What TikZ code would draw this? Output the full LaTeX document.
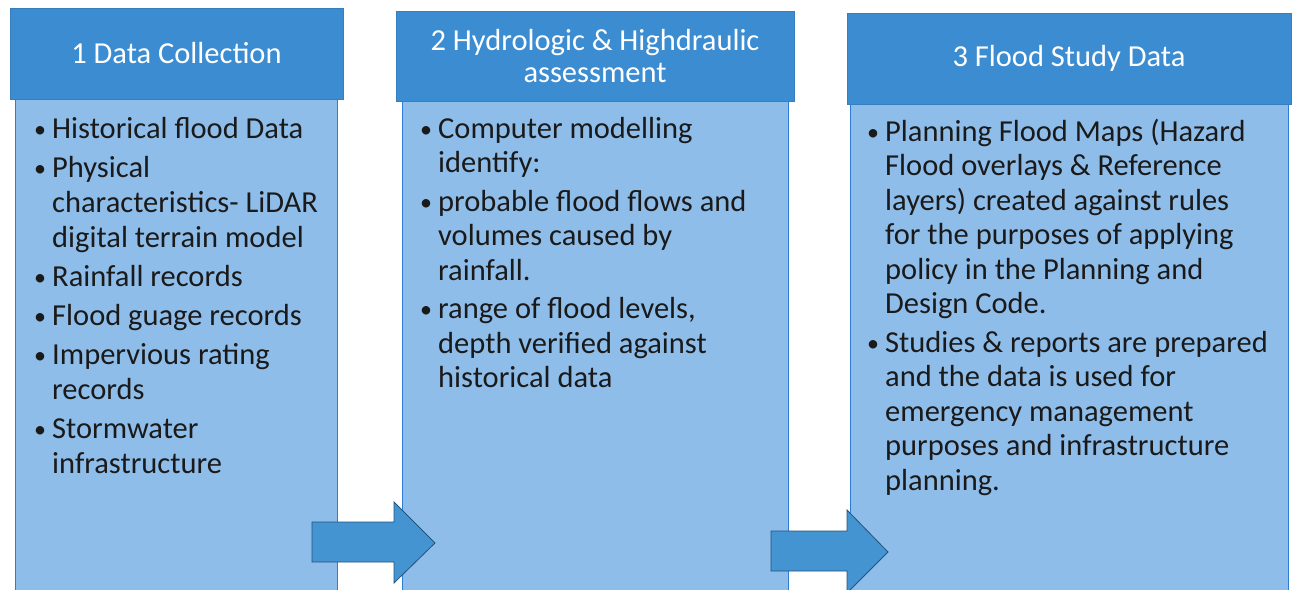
\documentclass[tikz,border=0pt]{standalone}
\usepackage{fontspec}
\setmainfont{Carlito}
\definecolor{hdrblue}{HTML}{3C8CD2}
\definecolor{bodyblue}{HTML}{8FBDEA}
\definecolor{edgeblue}{HTML}{2E7BD6}
\definecolor{arrowfill}{HTML}{4494D2}
\definecolor{arrowedge}{HTML}{24527E}
\definecolor{txt}{HTML}{1A1A1A}
\newlength\bulletw
\setlength\bulletw{19pt}
\newcommand\bitem[1]{\par\hangindent=\bulletw\hangafter=1\noindent\makebox[\bulletw][l]{\hspace{1pt}\raisebox{1pt}{\fontsize{24}{24}\selectfont\textbullet}}\global\parskip=4pt#1}
\newcommand\bodytext[2][34.5]{\vtop{\hsize=440pt\fontsize{30.5}{#1}\selectfont\parskip=0pt\raggedright#2\par}}
\tikzset{
  hdr/.style={fill=hdrblue, draw=hdrblue!90!black, line width=0.6pt, text=white, font=\fontsize{30.5}{32}\selectfont, align=center, inner sep=0pt},
  bodybox/.style={fill=bodyblue, draw=edgeblue, line width=1pt},
  blockarrow/.style={fill=arrowfill, draw=arrowedge, line width=0.8pt, line join=miter},
  btext/.style={anchor=base west, inner sep=0pt, text=txt}
}
\begin{document}
\begin{tikzpicture}[x=1pt,y=-1pt]
\useasboundingbox (0,0) rectangle (1292,589);
% bodies
\draw[bodybox] (15,99) rectangle (337,600);
\draw[bodybox] (402,101) rectangle (788,600);
\draw[bodybox] (850,104) rectangle (1288,600);
% headers
\node[hdr, minimum width=333pt, minimum height=91pt] (h1) at (176.5,53.5) {1 Data Collection};
\node[hdr, minimum width=398pt, minimum height=90pt] (h2) at (595,56) {2 Hydrologic \& Highdraulic\\assessment};
\node[hdr, minimum width=444pt, minimum height=91pt] (h3) at (1069,58.5) {\raisebox{-2pt}{3 Flood Study Data}};
% body texts
\node[btext] (t1) at (33,138) {\bodytext[35]{%
\bitem{Historical flood Data}
\bitem{Physical\newline characteristics- LiDAR\newline digital terrain model}
\bitem{Rainfall records}
\bitem{Flood guage records}
\bitem{Impervious rating\newline records}
\bitem{Stormwater\newline infrastructure}}};
\node[btext] (t2) at (419,138) {\bodytext{%
\bitem{Computer modelling\newline identify:}
\bitem{probable flood flows and\newline volumes caused by\newline rainfall.}
\bitem{range of flood levels,\newline depth verified against\newline historical data}}};
\node[btext] (t3) at (866,141) {\bodytext{%
\bitem{Planning Flood Maps (Hazard\newline Flood overlays \& Reference\newline layers) created against rules\newline for the purposes of applying\newline policy in the Planning and\newline Design Code.}
\bitem{Studies \& reports are prepared\newline and the data is used for\newline emergency management\newline purposes and infrastructure\newline planning.}}};
% block arrows
\draw[blockarrow] (312,522) -- (394,522) -- (394,502) -- (435,543) -- (394,583) -- (394,562) -- (312,562) -- cycle;
\draw[blockarrow] (771,531) -- (847,531) -- (847,510) -- (888,552) -- (847,593) -- (847,571) -- (771,571) -- cycle;
\end{tikzpicture}
\end{document}
